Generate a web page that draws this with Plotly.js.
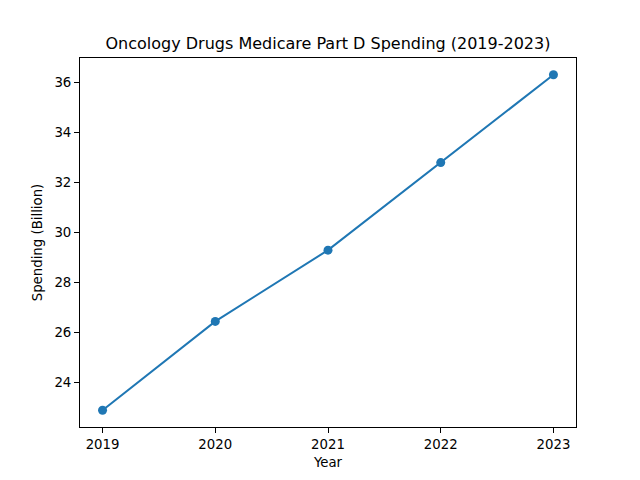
<!DOCTYPE html>
<html>
<head>
<meta charset="utf-8">
<script src="https://cdn.plot.ly/plotly-3.0.1.min.js"></script>
<style>
  html, body { margin: 0; padding: 0; background: #fff; }
  #chart { width: 640px; height: 480px; }
</style>
</head>
<body>
<div id="chart"></div>
<script>
const years = [2019, 2020, 2021, 2022, 2023];
const spending = [22.88, 26.43, 29.28, 32.78, 36.29];
const yTicks = [24, 26, 28, 30, 32, 34, 36];

const FONT = 'DejaVu Sans, sans-serif';

// matplotlib-like 5% padding around the data
const pad = (arr) => {
  const lo = Math.min(...arr);
  const hi = Math.max(...arr);
  const m = (hi - lo) * 0.05;
  return [lo - m, hi + m];
};

const axisBase = {
  showline: true,
  linecolor: '#000',
  linewidth: 1,
  mirror: true,
  ticks: 'outside',
  ticklen: 5,
  tickwidth: 1,
  tickcolor: '#000',
  showgrid: false,
  zeroline: false,
  tickfont: { family: FONT, size: 13.3, color: '#000' }
};

const data = [{
  type: 'scatter',
  mode: 'lines+markers',
  x: years,
  y: spending,
  line: { color: '#1f77b4', width: 2 },
  marker: { color: '#1f77b4', size: 9 },
  cliponaxis: false
}];

const layout = {
  width: 640,
  height: 480,
  margin: { l: 80, r: 64, t: 58, b: 53 },
  paper_bgcolor: '#fff',
  plot_bgcolor: '#fff',
  showlegend: false,
  font: { family: FONT, color: '#000' },
  title: {
    text: 'Oncology Drugs Medicare Part D Spending (2019-2023)',
    font: { family: FONT, size: 16, color: '#000' },
    x: 0.5,
    xref: 'paper',
    y: 1,
    yref: 'paper',
    yanchor: 'bottom',
    pad: { b: 9 }
  },
  xaxis: Object.assign({}, axisBase, {
    range: pad(years),
    tickvals: years,
    ticktext: years.map(String),
    title: { text: 'Year', font: { family: FONT, size: 13.3, color: '#000' }, standoff: 6 }
  }),
  yaxis: Object.assign({}, axisBase, {
    range: pad(spending),
    tickvals: yTicks,
    ticktext: yTicks.map(String),
    title: { text: 'Spending (Billion)', font: { family: FONT, size: 13.3, color: '#000' }, standoff: 8 }
  })
};

Plotly.newPlot('chart', data, layout, { displayModeBar: false, staticPlot: true });
</script>
</body>
</html>
